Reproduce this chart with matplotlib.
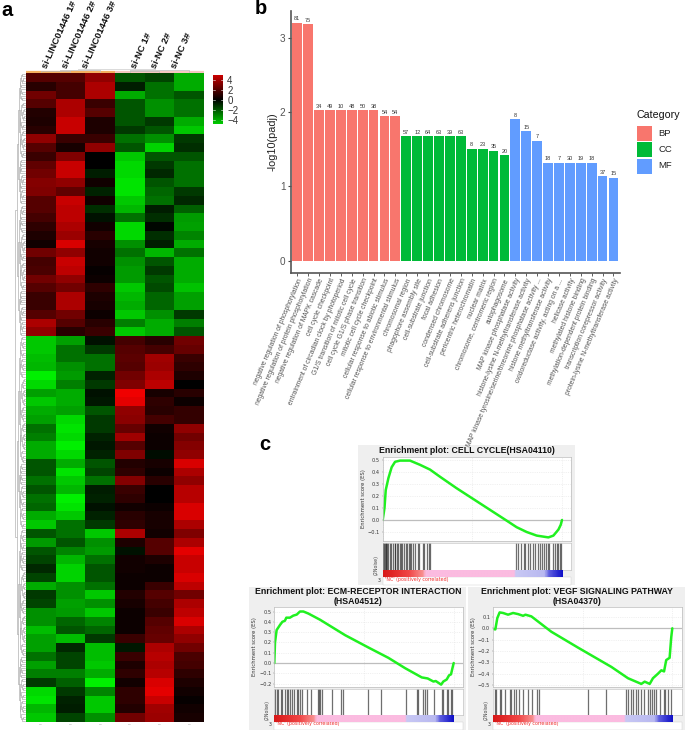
import numpy as np
import matplotlib
matplotlib.use("Agg")
import matplotlib.pyplot as plt
from matplotlib.colors import LinearSegmentedColormap

W, H = 685, 730
plt.rcParams['font.family'] = ['Liberation Sans', 'DejaVu Sans']

# ---------- panel a data ----------
samples = ["si-LINC01446 1#", "si-LINC01446 2#", "si-LINC01446 3#", "si-NC 1#", "si-NC 2#", "si-NC 3#"]
heat_top = [
 [1.5,1.5,2.5,-1.5,-1.2,-3],[.7,1.2,3,-.5,-2,-3],[2,1.2,3,-3,-2,-1.5],[1.5,3,1,-1.5,-2.5,-2],
 [.6,3,1.5,-1.5,-2.5,-2],[.5,3.5,.5,-1.5,-1,-3],[.7,3.5,.5,-1,-1.5,-3.5],[2.5,1,1,-2,-2.5,-1],
 [1.5,.4,2.5,-1.5,-3.7,-.8],[1,2.2,0,-3.5,-1.5,-1.5],[1.7,3.5,0,-3.8,-1,-2],[2,3.5,-.5,-3.8,-.7,-2],
 [2.3,2.5,.3,-4,-1.5,-2],[2.2,1.7,-.6,-4,-1.8,-1],[1.5,3.5,.3,-3.5,-2,-.7],
 [1.5,3.3,-.8,-3.2,-.5,-1.7],[1.2,3.3,-.3,-2,-.8,-2.7],[.8,3,.3,-3.8,-.1,-2.8],[.5,2.7,.7,-3.8,-.8,-2.3],
 [.3,3.8,.4,-2.5,-.5,-3],[2,2.5,.3,-2,-3.2,-2],[1.2,3.5,.3,-2.5,-1.5,-3],[1.3,3.3,.1,-2.7,-1,-3],
 [2,2.5,.2,-2.7,-1.5,-3],[1.5,2,.8,-3.5,-1.3,-3.4],[1,3,.5,-3.2,-1.8,-2.8],[1,3,.4,-3,-1.8,-2.8],
 [1.5,2,.2,-3.5,-2.5,-1],[3,1.5,.7,-2.2,-3,-2.2],[2.5,.7,1,-3.5,-3,-1.5],
]
heat_bottom = [
 [-3.5,-2.8,-.3,1.2,.7,2],[-3.5,-2,-1,1.5,1.2,1.8],[-3.3,-2,-2,1.6,2.8,1],[-3.2,-2.5,-2,1.5,2.7,.8],
 [-4.3,-2.7,-.6,2,3,.5],[-3.8,-2.2,-1,2.2,3.3,0],[-2.8,-3,-.3,4.2,.4,.7],[-3.5,-3,-.4,4,.8,.2],
 [-3,-2.8,-1.5,2.5,.7,.9],[-2.8,-3.8,-1,2.4,1.2,.9],[-2,-4,-1,1.8,.3,2.5],[-2.2,-3.8,-.6,2.8,.2,2],
 [-3,-4.2,-.4,1.5,.2,2.3],[-3,-3.8,-.6,2.2,-.2,2.5],[-1.5,-3,-1.5,.6,.4,3.8],
 [-1.5,-4,-1.2,.8,.2,3],[-2,-3.5,-2,2.3,.7,2.5],[-1.5,-3.2,-.5,1,0,3.2],[-2,-4.5,-.6,.8,0,3.2],
 [-1.8,-4,-.3,.3,.2,3.8],[-3,-3.5,-.6,.7,.4,3.8],[-3.5,-2,-1,.8,.4,3],[-1.5,-2,-3.5,3,.3,2.2],
 [-2.7,-1.5,-2.5,.5,1.5,3],[-1.5,-2.3,-2.7,-.3,1.5,4],[-1.2,-3.2,-2,.3,.5,3.5],[-.7,-3.7,-1.5,.3,.2,3.5],
 [-1.2,-3.7,-1.5,.2,.2,3.8],[-3,-2.5,-2,.2,1,3.3],[-1,-2.5,-3.5,.6,1.5,2],
 [-1.2,-2.8,-2.5,.4,1.2,3],[-2.5,-2.7,-3.5,.2,1,3.3],[-2.5,-1.8,-2.3,.2,1.5,3.8],[-3.3,-1.5,-1.8,.2,1.7,3],
 [-2.8,-3.3,-1,1,1.8,2.5],[-2.8,-.7,-3.3,-.4,3,2],[-2,-1.2,-3.3,1,3.2,1.3],[-2.8,-1.2,-3.5,.5,3,1.2],
 [-2.2,-2.2,-3,.8,3.2,.8],[-1,-1.7,-4.5,.3,3.8,.5],[-3.8,-1,-2.3,.8,4,.3],[-4,-.6,-3.5,.8,3.5,.1],
 [-3.2,-.5,-3.5,.6,2.8,.3],[-3.5,-1.2,-2.5,2,2.7,.4],
]
cbar_ticks = [4, 2, 0, -2, -4]

# ---------- panel b data ----------
terms = ["negative regulation of phosphorylation","negative regulation of protein phosphorylation",
 "negative regulation of MAPK cascade","cell cycle checkpoint","entrainment of circadian clock by photoperiod",
 "G1/S transition of mitotic cell cycle","cell cycle G1/S phase transition","mitotic cell cycle checkpoint",
 "cellular response to abiotic stimulus","cellular response to environmental stimulus",
 "chromosomal region","phagophore assembly site","cell-substrate junction","focal adhesion",
 "condensed chromosome","cell-substrate adherens junction","pericentric heterochromatin","nuclear matrix",
 "chromosome, centromeric region","autophagosome",
 "MAP kinase phosphatase activity","histone-lysine N-methyltransferase activity",
 "MAP kinase tyrosine/serine/threonine phosphatase activity ...","histone methyltransferase activity",
 "oxidoreductase activity, acting on a ...","helicase activity","methylated histone binding",
 "methylation-dependent protein binding","transcription corepressor activity",
 "protein-lysine N-methyltransferase activity"]
padj = [3.197,3.18,2.02,2.02,2.02,2.02,2.02,2.02,1.945,1.945,
        1.675,1.675,1.675,1.675,1.675,1.675,1.505,1.505,1.478,1.415,
        1.903,1.742,1.612,1.317,1.317,1.317,1.317,1.317,1.137,1.115]
counts = [81,75,34,49,10,48,50,38,54,54,57,12,64,63,39,63,8,23,35,20,8,15,7,18,7,30,19,18,37,15]
cats = ["BP"]*10 + ["CC"]*10 + ["MF"]*10
cat_names = ["BP", "CC", "MF"]
cat_colors = {"BP": "#F8766D", "CC": "#00BA38", "MF": "#619CFF"}

# ---------- panel c data ----------
t1 = "Enrichment plot: CELL CYCLE(HSA04110)"
r1 = [0,1,1.7,3.2,5,6.9,9.7,15.2,20.8,26.4,32,41.2,50.5,59.8,69.1,74.7,80.3,85.9,92.4,95.2,98,99.3,100]
e1 = [0,.1,.25,.35,.44,.485,.495,.495,.46,.42,.36,.265,.175,.085,-.005,-.06,-.1,-.13,-.145,-.13,-.08,-.04,0]
h1 = [0,.4,.8,1.2,1.6,2,2.4,2.8,4,4.4,5.6,6.6,7,8,8.8,9.6,10.4,11,12,12.8,13.6,14.4,15,16,17,18,19.5,20,
      22.5,23.2,24.6,26,26.6,74.6,75.2,77,79,79.6,81,82.4,84,85,86.4,87.6,89,90,90.8,92.4,93,95,96,97,98,99,99.6]
t2 = ["Enrichment plot: ECM-RECEPTOR INTERACTION", "(HSA04512)"]
r2 = [0,.4,1.3,3.2,4.5,5.9,6.7,8.7,10.6,12.5,14.3,16.2,19,25.5,39.5,52.5,63.6,72.9,82.2,85.5,88.7,90,93,94.2,96.1,97.4,98.5,99.3,100]
e2 = [0,.2,.32,.37,.4,.41,.44,.44,.46,.47,.5,.5,.48,.42,.27,.15,.05,-.05,-.14,-.15,-.18,-.175,-.21,-.18,-.16,-.12,-.11,-.05,0]
h2 = [.4,1.3,2.2,3.7,4.5,5.9,6.9,7.8,8.7,9.7,11,12.5,13.4,14.3,15.2,18,20.4,24.2,24.9,25.7,26.4,32.3,37.2,38.4,52.4,59.4,
      73.6,79.6,80.3,83.1,84,85,89.2,93.3,94.2,96.1,97,98.5,99.3]
t3 = ["Enrichment plot: VEGF SIGNALING PATHWAY", "(HSA04370)"]
r3 = [0,1.3,2.4,3.7,5.6,8.4,11.2,14,16.8,18.1,21.4,25.1,32.5,47.4,66,75.3,82.7,84.6,87.4,89.2,92,93.9,95.4,96.6,98.5,99.4,100]
e3 = [-.005,-.01,.09,.14,.135,.12,.135,.125,.11,.12,.105,.06,-.03,-.17,-.34,-.44,-.49,-.47,-.49,-.44,-.4,-.37,-.38,-.28,-.26,-.08,0]
h3 = [.9,1.9,3.7,4.7,6.5,9.3,10.2,11.7,13,14.3,16.8,19.6,21.8,24.8,25.5,53.1,62.8,74.4,75.3,76.8,78.2,79.5,80.6,82.7,84,
      86.4,87.3,88.6,89.8,91.1,92.9,95.4,96.1,97.6,99.5]

fig = plt.figure(figsize=(W/100, H/100), dpi=100, facecolor='white')

def ax_px(x0, y0, x1, y1, **kw):
    return fig.add_axes([x0/W, 1-y1/H, (x1-x0)/W, (y1-y0)/H], **kw)

bg = ax_px(0, 0, W, H)
bg.set_xlim(0, W); bg.set_ylim(H, 0); bg.axis('off')

# ---------- panel a ----------
cm = LinearSegmentedColormap.from_list('rg', ['#00F000', '#000000', '#F00000'])
ax = ax_px(26, 73, 204, 722)
ax.imshow(np.array(heat_top + heat_bottom), cmap=cm, vmin=-4.2, vmax=4.2, aspect='auto', interpolation='nearest')
ax.axis('off')

bg.plot([26, 115], [72.2, 72.2], color='#F5B060', lw=1.6, solid_capstyle='butt')
bg.plot([115, 204], [72.2, 72.2], color='#F5C8C0', lw=1.6, solid_capstyle='butt')
col_x = [26 + 178/6*(i+.5) for i in range(6)]
for x, s in zip([49, 69, 89, 138, 158, 178], samples):
    bg.text(x, 70, s, rotation=66, ha='left', va='bottom', rotation_mode='anchor',
            fontsize=6.8, fontweight='bold', color='#111111')
for x in col_x:
    bg.text(x, 724.5, "–", fontsize=3.5, color='#999999', ha='center', va='center')

# top dendrogram
for a, b, h0 in [(col_x[0], col_x[1], 71), (col_x[3], col_x[4], 71)]:
    bg.plot([a, a, b, b], [72, h0, h0, 72], color='#BBBBBB', lw=.5)
bg.plot([60, 60, col_x[2], col_x[2]], [71, 70, 70, 72], color='#BBBBBB', lw=.5)
bg.plot([130, 130, col_x[5], col_x[5]], [71, 70, 70, 72], color='#BBBBBB', lw=.5)
bg.plot([78, 78, 155, 155], [70, 69.3, 69.3, 70], color='#CCCCCC', lw=.5)

# row dendrogram, built recursively over the row indices
nrows = 4 * (len(heat_top) + len(heat_bottom))
def dendro(lo, hi, depth):
    y = lambda r: 73 + (r + .5) * (649 / nrows)
    if hi - lo < 1:
        return y(lo), 25.5
    mid = (lo + hi) // 2 + ((depth % 3) - 1) * (hi - lo) // 6
    mid = min(max(mid, lo), hi - 1)
    y1, x1 = dendro(lo, mid, depth + 1)
    y2, x2 = dendro(mid + 1, hi, depth + 1)
    x = min(16 + depth * .9, min(x1, x2) - .5)
    bg.plot([x1, x, x, x2], [y1, y1, y2, y2], color='#A8A8A8', lw=.45)
    return (y1 + y2) / 2, x

split = nrows * 30 // 74
ya, xa = dendro(0, split - 1, 1)
yb, xb = dendro(split, nrows - 1, 1)
bg.plot([xa, 15, 15, xb], [ya, ya, yb, yb], color='#C0C0C0', lw=.6)

# colorbar
cax = ax_px(213, 75, 223, 124)
cax.imshow(np.linspace(4.9, -4.9, 100)[:, None], cmap=cm, vmin=-5.8, vmax=5.8, aspect='auto',
           extent=[0, 1, -4.9, 4.9])
cax.set_xticks([]); cax.set_yticks(cbar_ticks)
cax.set_yticklabels([str(t).replace('-', '−') for t in cbar_ticks], fontsize=7, color='#333333')
cax.yaxis.tick_right()
cax.tick_params(axis='y', length=0, pad=3)
for v in cbar_ticks:
    cax.plot([0, .2], [v, v], color='white', lw=.4)
    cax.plot([.8, 1], [v, v], color='white', lw=.4)
for s in cax.spines.values():
    s.set_visible(False)

# ---------- panel b ----------
bx = ax_px(291, 11, 620, 272.5)
ppu = 74.4
bx.set_ylim(-(272.5-260.7)/ppu, (260.7-11)/ppu)
bx.set_xlim(-.57, 29.6)
xs = np.arange(len(terms))
bx.bar(xs, padj, width=.9, color=[cat_colors[c] for c in cats], edgecolor='none')
for x, v, n in zip(xs, padj, counts):
    bx.text(x, v + .02, str(n), ha='center', va='bottom', fontsize=4, color='#333333')
bx.set_yticks([0, 1, 2, 3])
bx.tick_params(axis='y', labelsize=7.2, labelcolor='#555555', length=2, width=.8, color='#444444', pad=2)
bx.set_xticks(xs)
bx.set_xticklabels(terms, rotation=67, ha='right', va='top', rotation_mode='anchor', fontsize=4.9, color='#555555')
bx.tick_params(axis='x', length=2, width=.6, color='#444444', pad=1.5)
bx.set_ylabel("-log10(padj)", fontsize=7.8, color='#222222', labelpad=1.5)
for s in ['top', 'right']:
    bx.spines[s].set_visible(False)
for s in ['left', 'bottom']:
    bx.spines[s].set_linewidth(1.2); bx.spines[s].set_color('#555555')
bx.patch.set_alpha(0)

bg.text(637, 114.5, "Category", fontsize=7.7, color='#111111', va='center', ha='left')
for yy, c in zip([133, 149.5, 166], cat_names):
    bg.add_patch(plt.Rectangle((637, yy-7.5), 15, 15, fc=cat_colors[c], ec='none'))
    bg.text(658.5, yy, c, fontsize=6.8, color='#222222', va='center', ha='left')

# ---------- panel c ----------
gsea_cm = LinearSegmentedColormap.from_list('gsea', [
    (0, '#D81818'), (.14, '#F04545'), (.22, '#F89090'), (.235, '#FBBBE0'), (.73, '#FBBBE0'),
    (.74, '#C8C8F4'), (.9, '#B8B8F0'), (.925, '#6060E0'), (1, '#1010C8')])

def gsea(box, title, title_y, plot, zero_y, per_tenth, rx1, hits_y, bar_y, nc_y, ymark, r, e, h):
    x0, x1, y0, y1 = plot
    bg.add_patch(plt.Rectangle((box[0], box[1]), box[2]-box[0], box[3]-box[1], fc='#EFEFEF', ec='none', zorder=0))
    for t, ty in zip(title, title_y):
        bg.text((box[0]+box[2])/2 + .5, ty, t, ha='center', va='center', fontsize=6.35, fontweight='bold',
                color='#111111')
    a = ax_px(x0, y0, x1, y1)
    a.set_xlim(0, 100*(x1-x0)/(rx1-x0))
    a.set_ylim((zero_y-y1)/per_tenth*.1, (zero_y-y0)/per_tenth*.1)
    a.grid(True, color='#E4E4E4', lw=.4, ls=(0, (2, 2)))
    a.set_axisbelow(True)
    a.axhline(0, color='#BDBDBD', lw=.9)
    a.plot(r, e, color='#20F020', lw=1.8, solid_capstyle='round')
    a.set_yticks(ymark)
    a.set_yticklabels(['%.1f' % v if v >= 0 else '\u2212%.1f' % abs(v) for v in ymark],
                      fontsize=3.6, family=['DejaVu Sans'], color='#333333')
    a.tick_params(axis='y', length=1, width=.3, pad=1, color='#777777')
    a.set_xticklabels([]); a.tick_params(axis='x', length=0)
    a.set_ylabel("Enrichment score (ES)", fontsize=3.8, family=['DejaVu Sans'], color='#333333', labelpad=1.5)
    for s in a.spines.values():
        s.set_color('#BBBBBB'); s.set_linewidth(.5)
    b = ax_px(x0, hits_y[0], x1, hits_y[1])
    b.set_xlim(a.get_xlim()); b.set_ylim(0, 1)
    b.vlines(h, 0, 1, color='#222222', lw=.9, alpha=.65)
    b.set_xticks([]); b.set_yticks([])
    for s in b.spines.values():
        s.set_color('#BBBBBB'); s.set_linewidth(.4)
    c = ax_px(x0, bar_y[0], rx1, bar_y[1])
    c.imshow(np.linspace(0, 1, 300)[None, :], cmap=gsea_cm, aspect='auto', vmin=0, vmax=1)
    c.axis('off')
    bg.add_patch(plt.Rectangle((x0, bar_y[1]), x1-x0, box[3]-bar_y[1], fc='white', ec='#CCCCCC', lw=.3, zorder=1))
    bg.text(x0+2, nc_y, "'NC' (positively correlated)", fontsize=3.4, color='#F03030', va='center',
            family=['DejaVu Sans'], zorder=3)
    bg.text(x0-4, nc_y, "3", fontsize=3.4, color='#333333', va='center', ha='center', family=['DejaVu Sans'], zorder=3)
    bg.text(x0-7, (hits_y[0]+bar_y[1])/2+5, "(2Noise)", fontsize=3.4, rotation=90, color='#444444',
            va='center', ha='center', family=['DejaVu Sans'], zorder=3)

gsea((358, 445, 575, 585), [t1], [450.3], (382.7, 571, 457, 540.5), 520, 12, 562, (542.5, 570), (570, 577), 580,
     [.5, .4, .3, .2, .1, 0, -.1], r1, e1, h1)
gsea((249, 587, 466, 730), t2, [592, 601], (274.3, 463, 607, 687), 663, 10.3, 453.7, (689, 715), (715, 722), 724,
     [.5, .4, .3, .2, .1, 0, -.1, -.2], r2, e2, h2)
gsea((468, 587, 685, 730), t3, [592, 601], (493, 682, 607, 687), 628.3, 11.35, 672.3, (689, 715), (715, 722), 724,
     [.1, 0, -.1, -.2, -.3, -.4, -.5], r3, e3, h3)

# panel letters
for x, y, s in [(1, 10, 'a'), (255, 9, 'b'), (259, 444, 'c')]:
    bg.text(x, y, s, fontsize=14.5, fontweight='bold', color='black', va='center', ha='left', zorder=5)

fig.savefig('out.png', dpi=100, facecolor='white')
